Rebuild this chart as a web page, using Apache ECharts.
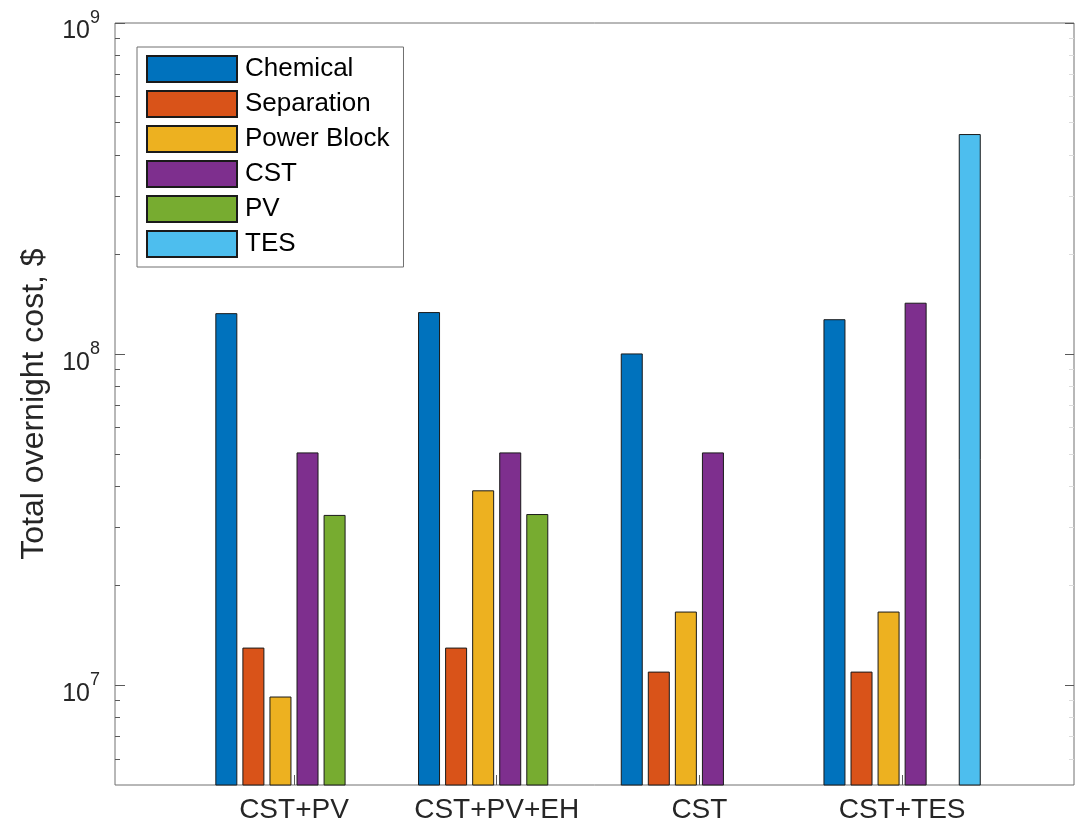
<!DOCTYPE html>
<html>
<head>
<meta charset="utf-8">
<title>Total overnight cost</title>
<script src="https://cdn.jsdelivr.net/npm/echarts@6/dist/echarts.min.js"></script>
<style>
  html, body { margin: 0; padding: 0; background: #ffffff; }
  #chart { width: 1076px; height: 833px; }
</style>
</head>
<body>
<div id="chart"></div>
<script>
// Plant configurations (x groups)
const categories = ['CST+PV', 'CST+PV+EH', 'CST', 'CST+TES'];

// Total overnight cost by component, $ (null = component not present)
const chemical   = [1.33e8, 1.34e8, 1.005e8, 1.275e8];
const separation = [1.30e7, 1.30e7, 1.10e7, 1.10e7];
const powerBlock = [9.25e6, 3.88e7, 1.67e7, 1.67e7];
const cst        = [5.05e7, 5.05e7, 5.05e7, 1.43e8];
const pv         = [3.27e7, 3.29e7, null, null];
const tes        = [null, null, null, 4.62e8];

// Log axis: labelled decades and intermediate minor ticks
const majorTicks = [1e7, 1e8, 1e9];
const minorTicks = [6e6, 7e6, 8e6, 9e6,
  2e7, 3e7, 4e7, 5e7, 6e7, 7e7, 8e7, 9e7,
  2e8, 3e8, 4e8, 5e8, 6e8, 7e8, 8e8, 9e8];

const seriesDefs = [
  { name: 'Chemical',    values: chemical,   color: '#0072BD' },
  { name: 'Separation',  values: separation, color: '#D95319' },
  { name: 'Power Block', values: powerBlock, color: '#EDB120' },
  { name: 'CST',         values: cst,        color: '#7E2F8E' },
  { name: 'PV',          values: pv,         color: '#77AC30' },
  { name: 'TES',         values: tes,        color: '#4DBEEE' }
];

const Y_MIN = 5e6, Y_MAX = 1e9;
const X_MIN = 0.117, X_MAX = 4.848;
const tickColor = '#5a5a5a';
const font = 'Liberation Sans, Arial, Helvetica, sans-serif';

function groupPoints(values) {
  const pts = [];
  values.forEach((v, i) => { if (v != null) pts.push([i + 1, v]); });
  return pts;
}

// "10" with a raised exponent; the zero-width strut sets the line height
function decadeLabel(v) {
  const e = Math.round(Math.log10(v));
  if (Math.abs(Math.log10(v) - e) > 1e-6) return '';
  return '{h|\u200b}{b|10}{s|' + e + '}';
}

const logAxisBase = {
  type: 'log',
  logBase: 10,
  min: Y_MIN,
  max: Y_MAX,
  gridIndex: 0,
  axisLine: { show: false },
  splitLine: { show: false }
};

const chart = echarts.init(document.getElementById('chart'), null, { renderer: 'canvas' });

chart.setOption({
  backgroundColor: '#ffffff',
  animation: false,
  textStyle: { fontFamily: font },
  grid: {
    left: 115, right: 2, top: 23, bottom: 48,
    show: true,
    borderColor: '#707070',
    borderWidth: 1,
    backgroundColor: 'transparent'
  },
  legend: {
    orient: 'vertical',
    left: 137,
    top: 47,
    padding: [8, 14, 9, 9],
    itemWidth: 90,
    itemHeight: 26,
    itemGap: 7,
    icon: 'rect',
    borderColor: '#707070',
    borderWidth: 1,
    backgroundColor: '#ffffff',
    textStyle: { fontSize: 26, lineHeight: 26, color: '#000000', fontFamily: font, padding: [0, 0, 0, 3] },
    data: seriesDefs.map(s => s.name)
  },
  xAxis: {
    type: 'value',
    min: X_MIN,
    max: X_MAX,
    axisLine: { show: false },
    splitLine: { show: false },
    axisTick: {
      show: true, inside: true, length: 10,
      customValues: [1, 2, 3, 4],
      lineStyle: { color: tickColor, width: 1 }
    },
    axisLabel: {
      customValues: [1, 2, 3, 4],
      formatter: v => categories[Math.round(v) - 1] || '',
      fontSize: 28,
      color: '#262626',
      margin: 11,
      fontFamily: font
    }
  },
  yAxis: [
    Object.assign({}, logAxisBase, {
      position: 'left',
      name: 'Total overnight cost, $',
      nameLocation: 'middle',
      nameGap: 65,
      nameTextStyle: { fontSize: 32, color: '#262626', fontFamily: font },
      axisTick: {
        show: true, inside: true, length: 10,
        customValues: majorTicks,
        lineStyle: { color: tickColor, width: 1 }
      },
      axisLabel: {
        customValues: majorTicks,
        formatter: decadeLabel,
        margin: 15,
        padding: [7, 0, 0, 0],
        color: '#262626',
        rich: {
          h: { fontSize: 2, lineHeight: 35, fontFamily: font },
          b: { fontSize: 25, lineHeight: 20, verticalAlign: 'bottom', color: '#262626', fontFamily: font },
          s: { fontSize: 18, lineHeight: 18, verticalAlign: 'top', color: '#262626', fontFamily: font }
        }
      }
    }),
    Object.assign({}, logAxisBase, {
      position: 'left',
      axisTick: {
        show: true, inside: true, length: 5,
        customValues: minorTicks,
        lineStyle: { color: tickColor, width: 1 }
      },
      axisLabel: { show: false }
    }),
    Object.assign({}, logAxisBase, {
      position: 'right',
      axisTick: {
        show: true, inside: true, length: 9,
        customValues: majorTicks,
        lineStyle: { color: tickColor, width: 1 }
      },
      axisLabel: { show: false }
    }),
    Object.assign({}, logAxisBase, {
      position: 'right',
      axisTick: {
        show: true, inside: true, length: 5,
        customValues: minorTicks,
        lineStyle: { color: '#dcdcdc', width: 1 }
      },
      axisLabel: { show: false }
    })
  ],
  series: seriesDefs.map(s => ({
    name: s.name,
    type: 'bar',
    xAxisIndex: 0,
    yAxisIndex: 0,
    barWidth: 22,
    barGap: '23%',
    clip: true,
    data: groupPoints(s.values),
    itemStyle: { color: s.color, borderColor: '#1a1a1a', borderWidth: 1 }
  }))
});
</script>
</body>
</html>
